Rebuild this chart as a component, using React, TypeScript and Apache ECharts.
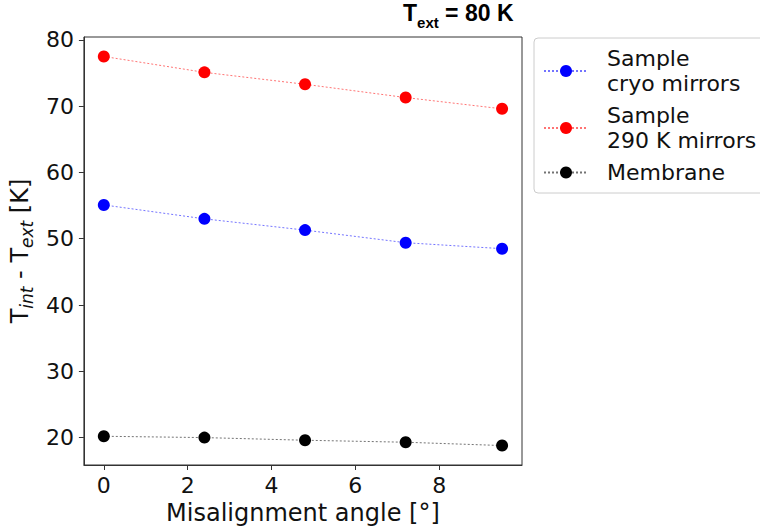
import React, { useEffect, useRef } from "react";
import * as echarts from "echarts";

// Misalignment angle (degrees)
const angles = [0, 2.4, 4.8, 7.2, 9.5];
// Temperature difference T_int - T_ext (K)
const cryoMirrors = [55.1, 53.0, 51.3, 49.4, 48.5];
const warmMirrors = [77.5, 75.1, 73.3, 71.3, 69.6];
const membrane = [20.2, 20.0, 19.6, 19.3, 18.8];

const xTicks = [0, 2, 4, 6, 8];
const yTicks = [20, 30, 40, 50, 60, 70, 80];

const seriesNames = ["Sample\ncryo mirrors", "Sample\n290 K mirrors", "Membrane"];

const FONT = "DejaVu Sans";
const TITLE_FONT = "Liberation Sans";
const FS = 22; // tick labels and legend
const NAME_FS = 24; // axis titles

function pairs(xs: number[], ys: number[]) {
  return xs.map((x, i) => [x, ys[i]]);
}

function lineSeries(name: string, ys: number[], color: string, lineColor: string) {
  return {
    name,
    type: "line",
    data: pairs(angles, ys),
    symbol: "circle",
    symbolSize: 12,
    itemStyle: { color },
    lineStyle: { color: lineColor, width: 1, type: [2, 2] },
    emphasis: { disabled: true },
  };
}

export default function App() {
  const ref = useRef<HTMLDivElement>(null);

  useEffect(() => {
    if (!ref.current) return;
    const chart = echarts.init(ref.current, undefined, { renderer: "svg" });

    // matplotlib-style 5% margins around the data
    const xMin = Math.min(...angles);
    const xMax = Math.max(...angles);
    const allY = [...cryoMirrors, ...warmMirrors, ...membrane];
    const yMin = Math.min(...allY);
    const yMax = Math.max(...allY);
    const xPad = (xMax - xMin) * 0.05;
    const yPad = (yMax - yMin) * 0.05;

    chart.setOption({
      animation: false,
      backgroundColor: "#ffffff",
      textStyle: { fontFamily: FONT },
      title: {
        left: 403,
        top: 0,
        padding: 0,
        text: "{t|T}{s|ext}{t| = 80 K}",
        textStyle: {
          rich: {
            t: { fontFamily: TITLE_FONT, fontWeight: "bold", fontSize: 23, lineHeight: 26, color: "#000", verticalAlign: "middle" },
            s: { fontFamily: TITLE_FONT, fontWeight: "bold", fontSize: 15, lineHeight: 17, color: "#000", verticalAlign: "bottom", padding: [0, 0, -4, 0] },
          },
        },
      },
      grid: {
        left: 82,
        top: 37,
        width: 440,
        height: 428,
        show: true,
        borderColor: "#333",
        borderWidth: 1,
        backgroundColor: "transparent",
      },
      legend: {
        left: 534,
        top: 38,
        orient: "vertical",
        itemWidth: 44,
        itemHeight: 15,
        itemGap: 7,
        padding: [8, 30, 8, 9],
        borderColor: "#cccccc",
        borderWidth: 1,
        borderRadius: 4,
        backgroundColor: "#ffffff",
        selectedMode: false,
        data: seriesNames,
        textStyle: {
          fontFamily: FONT,
          fontSize: FS,
          lineHeight: 25,
          color: "#111",
          padding: [0, 0, 0, 14],
        },
      },
      xAxis: {
        type: "value",
        min: xMin - xPad,
        max: xMax + xPad,
        name: "Misalignment angle [°]",
        nameLocation: "middle",
        nameGap: 36,
        nameTextStyle: { fontFamily: FONT, fontSize: NAME_FS, color: "#111" },
        splitLine: { show: false },
        axisLine: { show: true, onZero: false, lineStyle: { color: "#333", width: 1 } },
        axisTick: { show: true, length: 5, lineStyle: { color: "#333" }, customValues: xTicks },
        axisLabel: {
          fontFamily: FONT,
          fontSize: FS,
          color: "#111",
          margin: 9,
          customValues: xTicks,
        },
      },
      yAxis: {
        type: "value",
        min: yMin - yPad,
        max: yMax + yPad,
        name: "{m|T}{s|int}{m| - T}{s|ext}{m| [K]}",
        nameLocation: "middle",
        nameRotate: 90,
        nameGap: 44,
        nameTextStyle: {
          rich: {
            m: { fontFamily: FONT, fontSize: NAME_FS, lineHeight: 30, color: "#111", verticalAlign: "middle" },
            s: { fontFamily: FONT, fontSize: 17, fontStyle: "italic", lineHeight: 19, color: "#111", verticalAlign: "bottom" },
          },
        },
        splitLine: { show: false },
        axisLine: { show: true, onZero: false, lineStyle: { color: "#333", width: 1 } },
        axisTick: { show: true, length: 5, lineStyle: { color: "#333" }, customValues: yTicks },
        axisLabel: {
          fontFamily: FONT,
          fontSize: FS,
          color: "#111",
          margin: 10,
          customValues: yTicks,
        },
      },
      series: [
        lineSeries(seriesNames[0], cryoMirrors, "#0000ff", "rgba(0,0,255,0.55)"),
        lineSeries(seriesNames[1], warmMirrors, "#ff0000", "rgba(255,0,0,0.55)"),
        lineSeries(seriesNames[2], membrane, "#000000", "rgba(0,0,0,0.55)"),
      ],
    });

    return () => chart.dispose();
  }, []);

  return (
    <div
      ref={ref}
      style={{ position: "fixed", left: 0, top: 0, width: 760, height: 532 }}
    />
  );
}
